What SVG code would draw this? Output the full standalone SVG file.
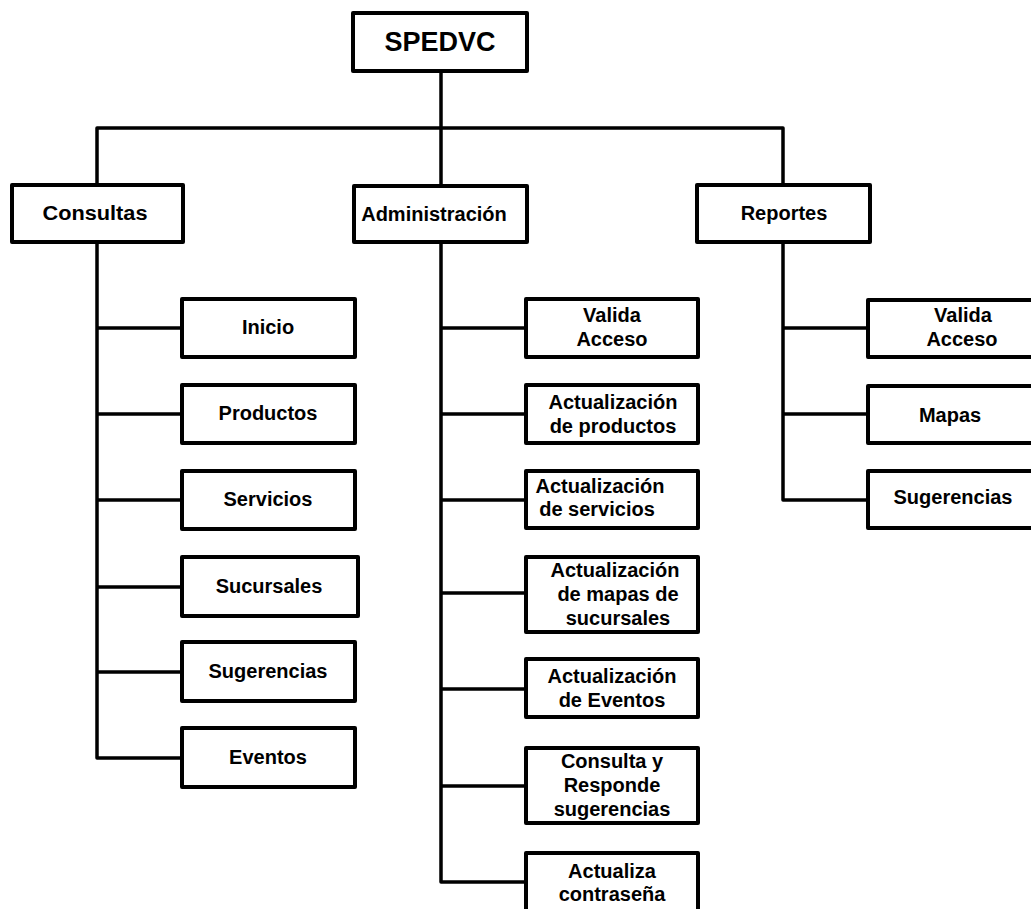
<svg xmlns="http://www.w3.org/2000/svg" width="1031" height="909" viewBox="0 0 1031 909">
  <style>
    .box { fill: #fff; stroke: #000; stroke-width: 4; stroke-linejoin: round; }
    .wire { fill: none; stroke: #000; stroke-width: 3.5; stroke-linejoin: round; stroke-linecap: butt; }
    text { font-family: "Liberation Sans", Arial, sans-serif; font-weight: bold; font-size: 20px; fill: #000; text-anchor: middle; }
    .title { font-size: 27px; }
  </style>
  <rect width="1031" height="909" fill="#fff"/>

  <!-- connectors -->
  <g id="connectors">
    <path class="wire" d="M441 71 V186"/>
    <path class="wire" d="M97 185 V128 H783 V185"/>
    <!-- Consultas branch -->
    <path class="wire" d="M97 242 V758 H182"/>
    <path class="wire" d="M97 328 H182 M97 414 H182 M97 500 H182 M97 587 H182 M97 672 H182"/>
    <!-- Administración branch -->
    <path class="wire" d="M441 242 V882 H526"/>
    <path class="wire" d="M441 328 H526 M441 414 H526 M441 500 H526 M441 593 H526 M441 689 H526 M441 786 H526"/>
    <!-- Reportes branch -->
    <path class="wire" d="M783 242 V500 H868"/>
    <path class="wire" d="M783 328 H868 M783 414 H868"/>
  </g>

  <!-- root -->
  <g id="spedvc">
    <rect class="box" x="353" y="13" width="174" height="58"/>
    <text class="title" x="440" y="51">SPEDVC</text>
  </g>

  <!-- first level -->
  <g id="consultas">
    <rect class="box" x="12" y="185" width="171" height="57"/>
    <text x="95" y="220" textLength="105" lengthAdjust="spacingAndGlyphs">Consultas</text>
  </g>
  <g id="administracion">
    <rect class="box" x="354" y="186" width="173" height="56"/>
    <text x="434" y="221">Administración</text>
  </g>
  <g id="reportes">
    <rect class="box" x="697" y="185" width="173" height="57"/>
    <text x="784" y="220">Reportes</text>
  </g>

  <!-- Consultas children -->
  <g id="inicio">
    <rect class="box" x="182" y="299" width="173" height="58"/>
    <text x="268" y="334">Inicio</text>
  </g>
  <g id="productos">
    <rect class="box" x="182" y="385" width="173" height="58"/>
    <text x="268" y="420">Productos</text>
  </g>
  <g id="servicios">
    <rect class="box" x="182" y="471" width="173" height="58"/>
    <text x="268" y="506">Servicios</text>
  </g>
  <g id="sucursales">
    <rect class="box" x="182" y="557" width="176" height="59"/>
    <text x="269" y="593">Sucursales</text>
  </g>
  <g id="sugerencias">
    <rect class="box" x="182" y="642" width="173" height="59"/>
    <text x="268" y="678">Sugerencias</text>
  </g>
  <g id="eventos">
    <rect class="box" x="182" y="728" width="173" height="59"/>
    <text x="268" y="764">Eventos</text>
  </g>

  <!-- Administración children -->
  <g id="admin-valida-acceso">
    <rect class="box" x="526" y="299" width="172" height="58"/>
    <text x="612" y="322">Valida</text>
    <text x="612" y="346">Acceso</text>
  </g>
  <g id="act-productos">
    <rect class="box" x="526" y="385" width="172" height="58"/>
    <text x="613" y="409">Actualización</text>
    <text x="613" y="433">de productos</text>
  </g>
  <g id="act-servicios">
    <rect class="box" x="526" y="471" width="172" height="57"/>
    <text x="600" y="493">Actualización</text>
    <text x="597" y="516">de servicios</text>
  </g>
  <g id="act-mapas">
    <rect class="box" x="526" y="557" width="172" height="75"/>
    <text x="615" y="577">Actualización</text>
    <text x="618" y="601">de mapas de</text>
    <text x="618" y="625">sucursales</text>
  </g>
  <g id="act-eventos">
    <rect class="box" x="526" y="659" width="172" height="58"/>
    <text x="612" y="683">Actualización</text>
    <text x="612" y="707">de Eventos</text>
  </g>
  <g id="consulta-responde">
    <rect class="box" x="526" y="748" width="172" height="75"/>
    <text x="612" y="768">Consulta y</text>
    <text x="612" y="792">Responde</text>
    <text x="612" y="816">sugerencias</text>
  </g>
  <g id="actualiza-contrasena">
    <rect class="box" x="526" y="853" width="172" height="70"/>
    <text x="612" y="878">Actualiza</text>
    <text x="612" y="901">contraseña</text>
  </g>

  <!-- Reportes children -->
  <g id="rep-valida-acceso">
    <rect class="box" x="868" y="300" width="175" height="57"/>
    <text x="963" y="322">Valida</text>
    <text x="962" y="346">Acceso</text>
  </g>
  <g id="mapas">
    <rect class="box" x="868" y="386" width="175" height="57"/>
    <text x="950" y="422">Mapas</text>
  </g>
  <g id="rep-sugerencias">
    <rect class="box" x="868" y="471" width="175" height="57"/>
    <text x="953" y="504">Sugerencias</text>
  </g>
</svg>
